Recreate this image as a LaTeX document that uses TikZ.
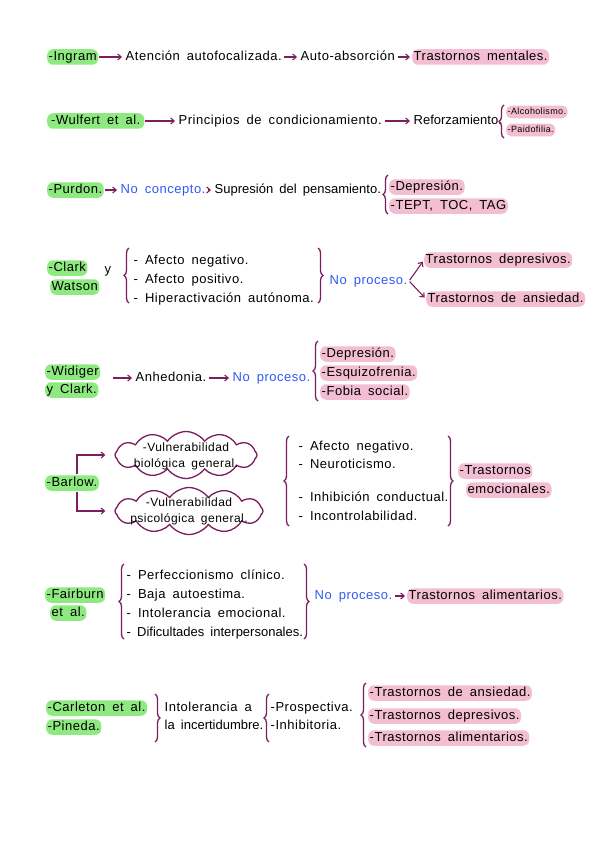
\documentclass[tikz,border=0pt]{standalone}
\usepackage{fontspec}
\setmainfont[LetterSpace=4,WordSpace=1.7]{Liberation Sans}
\usetikzlibrary{arrows.meta,decorations.pathreplacing,shapes.symbols}
\definecolor{hgreen}{RGB}{142,234,128}
\definecolor{hpink}{RGB}{243,189,210}
\definecolor{purp}{RGB}{122,30,94}
\definecolor{nblue}{RGB}{46,91,245}
\newcommand{\myfs}{\fontsize{13}{15}\selectfont}
\newcommand{\mynar}{\fontsize{13}{15}\selectfont\addfontfeature{LetterSpace=0}}
\newcommand{\mycl}{\fontsize{12}{16}\selectfont}
\newcommand{\mysm}{\fontsize{9}{11}\selectfont}
\tikzset{
 txt/.style={anchor=west, inner xsep=1.5pt, inner ysep=1.5pt, text height=9.5pt, text depth=3pt, font=\myfs},
 nar/.style={font=\mynar},
 smalltxt/.style={txt, font=\mysm, text height=7.2pt, text depth=2.4pt},
 hlg/.style={txt, fill=hgreen, rounded corners=6pt},
 hlp/.style={txt, fill=hpink, rounded corners=6pt},
 hlps/.style={smalltxt, fill=hpink, rounded corners=5pt},
 blu/.style={txt, text=nblue},
 parrow/.style={draw=purp, line width=1.1pt, shorten <=1pt, shorten >=2pt, -{Straight Barb[length=3.5pt,width=6pt]}},
 pbrace/.style={draw=purp, line width=1.3pt, decorate, decoration={brace, amplitude=5pt}},
 cloudy/.style={cloud, draw=purp, line width=1.3pt, cloud puffs=12, cloud puff arc=110, cloud ignores aspect, inner sep=0pt},
 cloudtxt/.style={anchor=center, align=center, inner sep=0pt, font=\mycl},
}
\begin{document}
\begin{tikzpicture}[x=1pt,y=-1pt]
\fill[white] (0,0) rectangle (600,848);
\useasboundingbox (0,0) rectangle (600,848);

% Row 1
\node[hlg] (ingram) at (47,57) {-Ingram};
\node[txt] (atf) at (124,57) {Atención autofocalizada.};
\node[txt] (aab) at (299,57) {Auto-absorción};
\node[hlp] (tm) at (412,57) {Trastornos mentales.};
\draw[parrow] (ingram.east) -- (atf.west);
\draw[parrow] (atf.east) -- (aab.west);
\draw[parrow] (aab.east) -- (tm.west);

% Row 2
\node[hlg, inner xsep=4pt] (wul) at (47,121) {-Wulfert et al.};
\node[txt] (pc) at (177,121) {Principios de condicionamiento.};
\node[txt, nar] (ref) at (412,121) {Reforzamiento.};
\draw[parrow] (wul.east) -- (pc.west);
\draw[parrow] (pc.east) -- (ref.west);
\coordinate (b2a) at (504,138);
\coordinate (b2b) at (504,105);
\draw[pbrace] (b2a) -- (b2b);
\node[hlps] (alc) at (506,112) {-Alcoholismo.};
\node[hlps] (pai) at (506,130) {-Paidofilia.};

% Row 3
\node[hlg] (pur) at (47,190) {-Purdon.};
\node[blu] (nc) at (119,190) {No concepto.};
\node[txt, nar] (sup) at (213,190) {Supresión del pensamiento.};
\draw[parrow] (pur.east) -- (nc.west);
\draw[parrow] (nc.east) -- (sup.west);
\coordinate (b3a) at (388,214);
\coordinate (b3b) at (388,175);
\draw[pbrace] (b3a) -- (b3b);
\node[hlp] (dep3) at (389,187) {-Depresión.};
\node[hlp] (tept) at (389,206) {-TEPT, TOC, TAG};

% Row 4
\node[hlg] (clark) at (47,268) {-Clark};
\node[txt] (y4) at (103,270) {y};
\node[hlg] (wat) at (50,287) {Watson};
\coordinate (b4a) at (129,303);
\coordinate (b4b) at (129,248);
\draw[pbrace] (b4a) -- (b4b);
\node[txt] (an4) at (132,261) {- Afecto negativo.};
\node[txt] (ap4) at (132,280) {- Afecto positivo.};
\node[txt] (hi4) at (132,299) {- Hiperactivación autónoma.};
\coordinate (b4c) at (318,248);
\coordinate (b4d) at (318,303);
\draw[pbrace] (b4c) -- (b4d);
\node[blu] (np4) at (328,281) {No proceso.};
\node[hlp] (td4) at (424,260) {Trastornos depresivos.};
\node[hlp] (ta4) at (426,299) {Trastornos de ansiedad.};
\draw[parrow] (np4.east) -- (td4.west);
\draw[parrow] (np4.east) -- (ta4.west);

% Row 5
\node[hlg] (wid) at (45,372) {-Widiger};
\node[hlg] (yc) at (45,390) {y Clark.};
\coordinate (w5) at (112,378);
\node[txt] (anh) at (134,378) {Anhedonia.};
\node[blu] (np5) at (231,378) {No proceso.};
\draw[parrow] (w5) -- (anh.west);
\draw[parrow] (anh.east) -- (np5.west);
\coordinate (b5a) at (318,401);
\coordinate (b5b) at (318,341);
\draw[pbrace] (b5a) -- (b5b);
\node[hlp] (dep5) at (320,354) {-Depresión.};
\node[hlp] (esq5) at (320,373) {-Esquizofrenia.};
\node[hlp] (fob5) at (320,392) {-Fobia social.};

% Row 6
\node[hlg] (bar) at (45,483) {-Barlow.};
\node[cloudy, minimum width=142pt, minimum height=47pt] (cl1) at (186,455) {};
\node[cloudy, minimum width=148pt, minimum height=47pt] (cl2) at (189,511) {};
\node[cloudtxt] (cl1t) at (186,456) {-Vulnerabilidad\\biológica general.};
\node[cloudtxt] (cl2t) at (189,511) {-Vulnerabilidad\\psicológica general.};
\coordinate (bv) at (77,483);
\draw[parrow, shorten >=9pt] (bv |- bar.north) |- (cl1.west);
\draw[parrow, shorten >=9pt] (bv |- bar.south) |- (cl2.west);
\coordinate (b6a) at (289,526);
\coordinate (b6b) at (289,436);
\draw[pbrace] (b6a) -- (b6b);
\node[txt] (an6) at (297,447) {- Afecto negativo.};
\node[txt] (ne6) at (297,465) {- Neuroticismo.};
\node[txt] (ib6) at (297,498) {- Inhibición conductual.};
\node[txt] (in6) at (297,517) {- Incontrolabilidad.};
\coordinate (b6c) at (448,436);
\coordinate (b6d) at (448,526);
\draw[pbrace] (b6c) -- (b6d);
\node[hlp] (te6a) at (458,471) {-Trastornos};
\node[hlp] (te6b) at (466,490) {emocionales.};

% Row 7
\node[hlg] (fai) at (45,595) {-Fairburn};
\node[hlg] (eta) at (50,613) {et al.};
\coordinate (b7a) at (124,639);
\coordinate (b7b) at (124,564);
\draw[pbrace] (b7a) -- (b7b);
\node[txt] (pe7) at (125,576) {- Perfeccionismo clínico.};
\node[txt] (ba7) at (125,595) {- Baja autoestima.};
\node[txt] (ie7) at (125,614) {- Intolerancia emocional.};
\node[txt, nar] (di7) at (125,633) {- Dificultades interpersonales.};
\coordinate (b7c) at (304,564);
\coordinate (b7d) at (304,639);
\draw[pbrace] (b7c) -- (b7d);
\node[blu] (np7) at (313,596) {No proceso.};
\node[hlp] (ta7) at (407,596) {Trastornos alimentarios.};
\draw[parrow] (np7.east) -- (ta7.west);

% Row 8
\node[hlg] (carl) at (46,708) {-Carleton et al.};
\node[hlg] (pin) at (46,727) {-Pineda.};
\coordinate (b8a) at (155,694);
\coordinate (b8b) at (155,742);
\draw[pbrace] (b8a) -- (b8b);
\node[txt] (io8a) at (163,708) {Intolerancia a};
\node[txt, nar] (io8b) at (163,726) {la incertidumbre.};
\coordinate (b8c) at (269,742);
\coordinate (b8d) at (269,694);
\draw[pbrace] (b8c) -- (b8d);
\node[txt] (pr8) at (269,708) {-Prospectiva.};
\node[txt] (ih8) at (269,726) {-Inhibitoria.};
\coordinate (b8e) at (366,747);
\coordinate (b8f) at (366,683);
\draw[pbrace] (b8e) -- (b8f);
\node[hlp] (ta8) at (368,693) {-Trastornos de ansiedad.};
\node[hlp] (td8) at (368,716) {-Trastornos depresivos.};
\node[hlp] (tl8) at (368,738) {-Trastornos alimentarios.};
\end{tikzpicture}
\end{document}
